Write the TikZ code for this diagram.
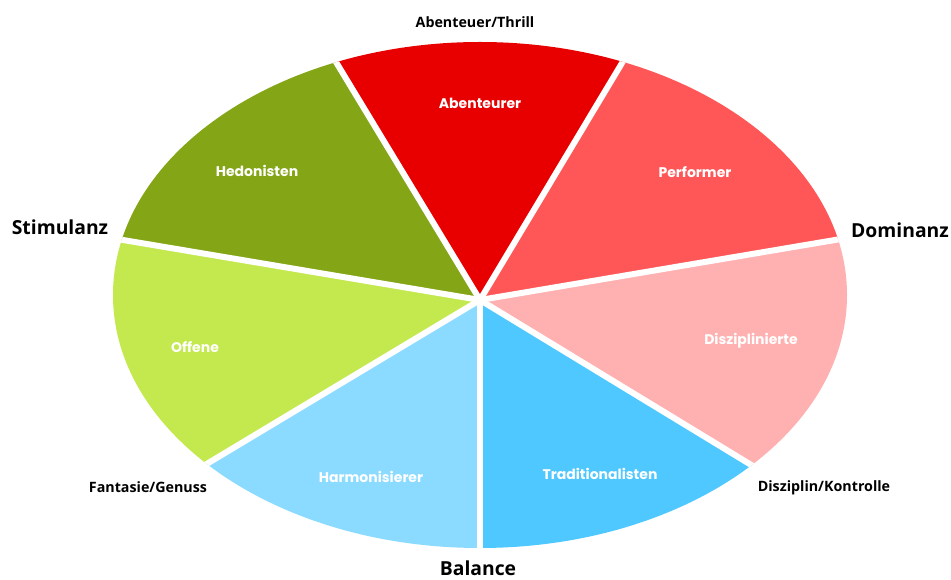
\documentclass[tikz,border=0pt]{standalone}
\usepackage{fontspec}
\setmainfont{Open Sans}
\newfontfamily\pop{Poppins}
\usetikzlibrary{calc}
\definecolor{cAbe}{HTML}{E80000}
\definecolor{cPerf}{HTML}{FF5757}
\definecolor{cDisz}{HTML}{FFB0B0}
\definecolor{cTrad}{HTML}{4FC8FF}
\definecolor{cHarm}{HTML}{8ADBFF}
\definecolor{cOff}{HTML}{C3E94F}
\definecolor{cHed}{HTML}{84A616}
\tikzset{
  inlabel/.style={text=white, font=\pop\bfseries\fontsize{10.5}{12}\selectfont, inner sep=0pt},
  axislabel/.style={text=black, font=\bfseries\fontsize{14.5}{17}\selectfont, inner sep=0pt},
  polelabel/.style={text=black, font=\bfseries\fontsize{10.7}{12}\selectfont, inner sep=0pt},
  sep/.style={white, line width=4.5pt}
}
\begin{document}
\begin{tikzpicture}[x=0.75pt, y=-0.75pt]
\useasboundingbox (0,0) rectangle (951,580);
\fill[white] (0,0) rectangle (951,580);
\coordinate (C) at (480,300);
\coordinate (b1) at (336,62);
\coordinate (b2) at (622,63);
\coordinate (b3) at (835,240);
\coordinate (b4) at (748,463);
\coordinate (b5) at (480,548);
\coordinate (b6) at (210,462);
\coordinate (b7) at (123,240);
\foreach \i in {1,...,7} { \coordinate (f\i) at ($(C)!3!(b\i)$); }
\begin{scope}
\clip (480,295) ellipse [x radius=275.25pt, y radius=189.75pt];
\fill[cHed] (C) -- (f7) -- (f1) -- cycle;
\fill[cAbe] (C) -- (f1) -- (f2) -- cycle;
\fill[cPerf] (C) -- (f2) -- (f3) -- cycle;
\fill[cDisz] (C) -- (f3) -- (f4) -- cycle;
\fill[cTrad] (C) -- (f4) -- (f5) -- cycle;
\fill[cHarm] (C) -- (f5) -- (f6) -- cycle;
\fill[cOff] (C) -- (f6) -- (f7) -- cycle;
\foreach \i in {1,...,7} { \draw[sep] (C) -- (f\i); }
\end{scope}
\node[inlabel] (hed) at (257,171) {Hedonisten};
\node[inlabel] (abe) at (480,103) {Abenteurer};
\node[inlabel] (perf) at (695,172) {Performer};
\node[inlabel] (disz) at (751,341) {Disziplinierte};
\node[inlabel] (trad) at (600,474) {Traditionalisten};
\node[inlabel] (harm) at (371,477) {Harmonisierer};
\node[inlabel] (off) at (195,347) {Offene};
\node[polelabel] (thrill) at (475,22) {Abenteuer/Thrill};
\node[axislabel] (stim) at (60,227) {Stimulanz};
\node[axislabel] (dom) at (900,230) {Dominanz};
\node[polelabel] (fant) at (148,487) {Fantasie/Genuss};
\node[polelabel] (kontr) at (824,488) {Disziplin/Kontrolle};
\node[axislabel] (bal) at (478,568) {Balance};
\end{tikzpicture}
\end{document}
